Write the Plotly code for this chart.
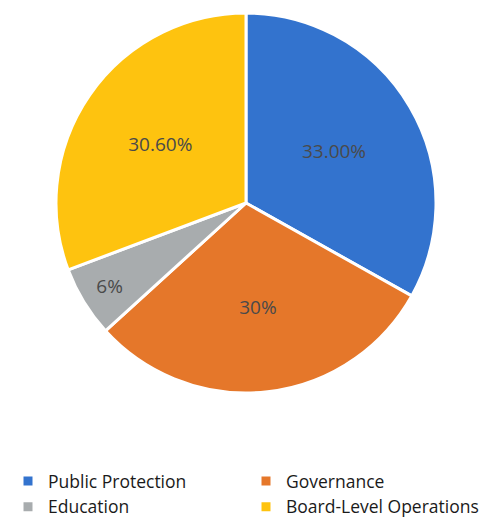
import plotly.graph_objects as go

categories = ["Public Protection", "Governance", "Education", "Board-Level Operations"]
values = [33.00, 30.0, 6.0, 30.60]
value_labels = ["33.00%", "30%", "6%", "30.60%"]
colors = ["#3373CE", "#E5772A", "#A8ACAE", "#FEC30F"]

W, H = 489, 519

fig = go.Figure(go.Pie(
    labels=categories,
    values=values,
    text=value_labels,
    texttemplate="%{text}",
    textposition="inside",
    insidetextorientation="horizontal",
    textfont=dict(family="Open Sans, sans-serif", size=19, color="#4a4a4a"),
    marker=dict(colors=colors, line=dict(color="white", width=3)),
    sort=False,
    direction="clockwise",
    rotation=0,
    hoverinfo="label+text",
    domain=dict(x=[48/W, 428/W], y=[1-385/H, 1-5/H]),
))

fig.update_layout(
    width=W, height=H,
    margin=dict(l=0, r=0, t=0, b=0),
    paper_bgcolor="white",
    showlegend=True,
    legend=dict(
        orientation="h",
        x=0, xanchor="left",
        y=1-455/H, yanchor="top",
        entrywidth=193, entrywidthmode="pixels",
        font=dict(family="Open Sans, sans-serif", size=17.5, color="#1a1a1a"),
    ),
)

fig.write_html("out.html")
